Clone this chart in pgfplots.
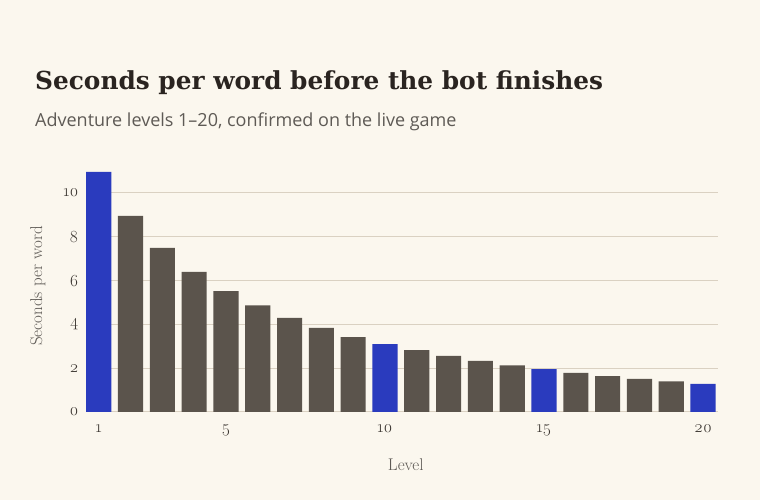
\documentclass[border=0pt]{standalone}
\usepackage{fontspec}
\setmainfont{Latin Modern Roman}[Numbers=OldStyle]
\newfontfamily\titlefont{DejaVu Serif}
\newfontfamily\subfont{Open Sans}
\usepackage{pgfplots}
\pgfplotsset{compat=1.18}

\definecolor{bg}{HTML}{FBF7EE}
\definecolor{barc}{HTML}{5B544C}
\definecolor{hlc}{HTML}{2A3BBE}
\definecolor{gridc}{HTML}{DAD1C2}
\definecolor{titlec}{HTML}{2A2420}
\definecolor{subc}{HTML}{5E5A55}
\definecolor{labc}{HTML}{3A3530}

\newcommand\tickfont{\fontsize{17}{19}\selectfont}

\begin{document}
\begin{tikzpicture}
  \fill[bg] (0pt,0pt) rectangle (760pt,500pt);
  \useasboundingbox (0pt,0pt) rectangle (760pt,500pt);

  \node[anchor=base west, inner sep=0, text=titlec,
        font=\titlefont\bfseries\fontsize{24.8}{29}\selectfont]
    at (35pt,410pt) {Seconds per word before the bot finishes};
  \node[anchor=base west, inner sep=0, text=subc,
        font=\subfont\fontsize{18}{21}\selectfont]
    at (35pt,373pt) {Adventure levels 1–20, confirmed on the live game};

  \begin{axis}[
      at={(86pt,88pt)}, anchor=south west,
      scale only axis, width=632pt, height=252pt,
      xmin=0.6, xmax=20.47, ymin=0, ymax=11.5,
      xtick={1,5,10,15,20}, ytick={0,2,4,6,8,10},
      ymajorgrids, grid style={color=gridc, line width=1pt},
      axis line style={draw=none},
      major tick length=0pt,
      xticklabel={\tickfont\pgfmathprintnumber[assume math mode=true]{\tick}},
      yticklabel={\tickfont\pgfmathprintnumber[assume math mode=true]{\tick}},
      tick label style={text=labc},
      yticklabel style={xshift=-4pt},
      xticklabel style={yshift=-9pt},
      xlabel={Level}, ylabel={Seconds per word},
      label style={font=\fontsize{17}{20}\selectfont, text=subc},
      xlabel style={at={(axis description cs:0.506,-0.21)}, anchor=center},
      ylabel style={at={(axis description cs:-0.076,0.5)}, anchor=center},
      ybar, bar width=0.79, bar shift=0pt,
    ]
    \addplot[fill=barc, draw=none] coordinates {
      (2,8.95) (3,7.49) (4,6.39) (5,5.52) (6,4.86) (7,4.30) (8,3.84) (9,3.42)
      (11,2.82) (12,2.56) (13,2.33) (14,2.13)
      (16,1.78) (17,1.64) (18,1.51) (19,1.40)
    };
    \addplot[fill=hlc, draw=none] coordinates {
      (1,10.96) (10,3.10) (15,1.96) (20,1.28)
    };
  \end{axis}
\end{tikzpicture}
\end{document}
